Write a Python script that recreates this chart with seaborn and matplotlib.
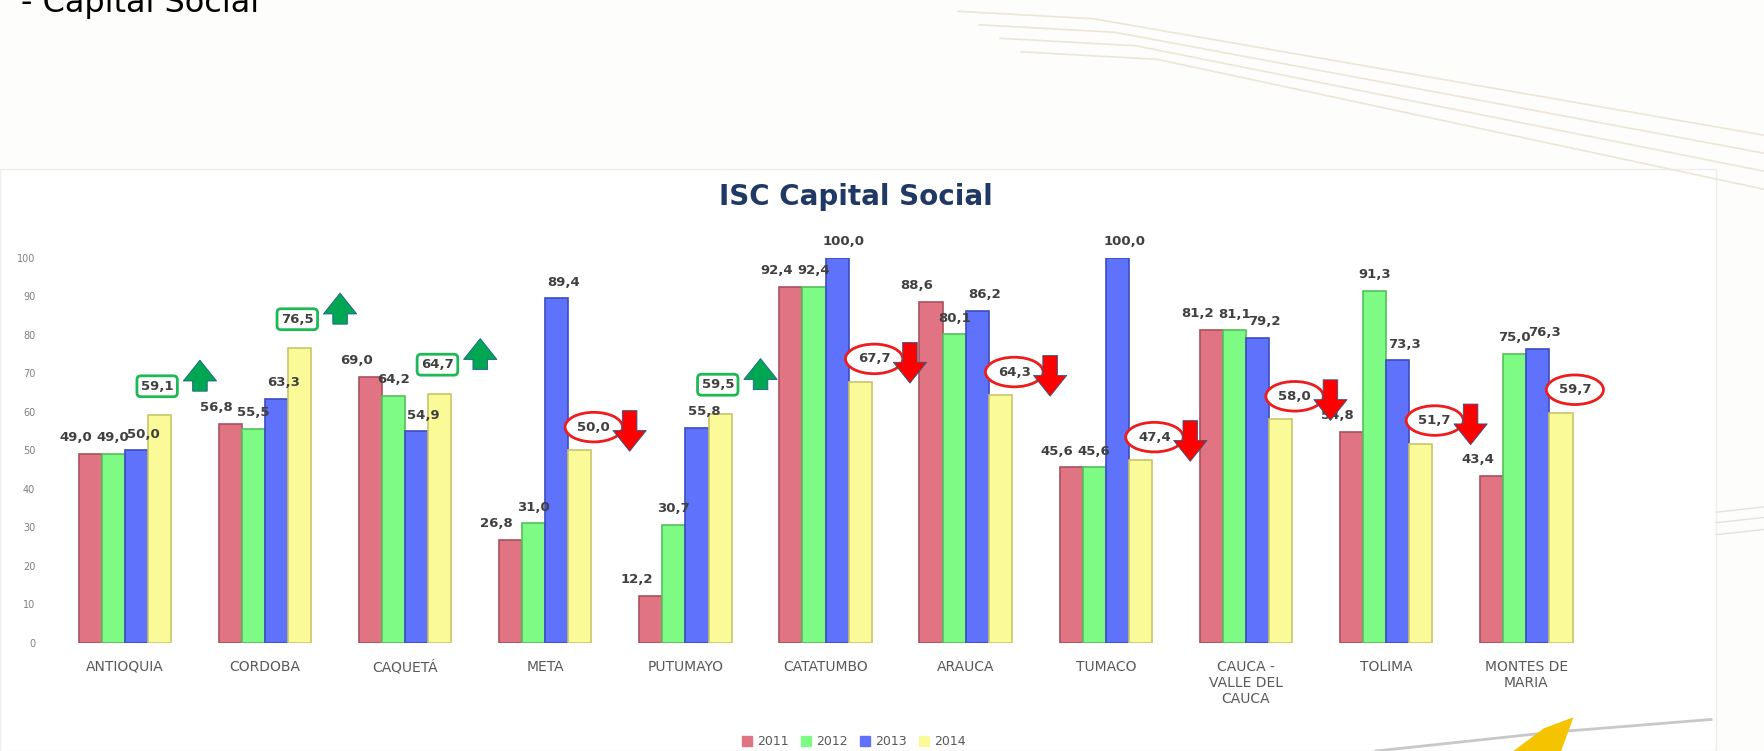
import numpy as np
import pandas as pd
import matplotlib
matplotlib.use("Agg")
import matplotlib.pyplot as plt
import seaborn as sns
from matplotlib.patches import Patch, Rectangle, Polygon
from matplotlib.lines import Line2D

# Datos
regiones = ["ANTIOQUIA", "CORDOBA", "CAQUETÁ", "META", "PUTUMAYO", "CATATUMBO",
            "ARAUCA", "TUMACO", "CAUCA -\nVALLE DEL\nCAUCA", "TOLIMA", "MONTES DE\nMARIA"]
anios = ["2011", "2012", "2013", "2014"]
v2011 = [49.0, 56.8, 69.0, 26.8, 12.2, 92.4, 88.6, 45.6, 81.2, 54.8, 43.4]
v2012 = [49.0, 55.5, 64.2, 31.0, 30.7, 92.4, 80.1, 45.6, 81.1, 91.3, 75.0]
v2013 = [50.0, 63.3, 54.9, 89.4, 55.8, 100.0, 86.2, 100.0, 79.2, 73.3, 76.3]
v2014 = [59.1, 76.5, 64.7, 50.0, 59.5, 67.7, 64.3, 47.4, 58.0, 51.7, 59.7]

colores = ["#e07482", "#7dfb84", "#5f72fb", "#fbfa98"]
bordes = ["#a8505c", "#55c05c", "#3a4cc0", "#c8c66a"]

df = pd.DataFrame({
    "region": regiones * 4,
    "anio": [a for a in anios for _ in regiones],
    "valor": v2011 + v2012 + v2013 + v2014,
})

fig = plt.figure(figsize=(17.64, 7.51), dpi=100)
fig.patch.set_facecolor("#fdfdfc")

# panel blanco del gráfico
fig.add_artist(Rectangle((0, 0), 0.973, 0.775, transform=fig.transFigure,
                         facecolor="white", edgecolor="#eeeeee", lw=1, zorder=0))

# líneas decorativas del fondo
for d in [0, 0.012, 0.024, 0.036]:
    fig.add_artist(Line2D([0.543 + d, 0.62 + d, 1.0], [0.985 - d * 1.5, 0.975 - d * 1.5, 0.82 - d * 2],
                          transform=fig.transFigure, color="#ece6d6", lw=1.2, zorder=0))
for d in [0, 0.014, 0.03]:
    fig.add_artist(Line2D([0.973, 1.0], [0.318 - d, 0.325 - d], transform=fig.transFigure,
                          color="#e2e2e2", lw=1, zorder=0))
fig.add_artist(Line2D([0.78, 0.88, 0.97], [0.0, 0.025, 0.042], transform=fig.transFigure,
                      color="#c8c8c8", lw=2, zorder=1))
fig.add_artist(Polygon([[0.858, 0.0], [0.875, 0.03], [0.892, 0.045], [0.885, 0.0]],
                       closed=True, transform=fig.transFigure, facecolor="#f5c400",
                       edgecolor="none", zorder=1))

fig.text(0.012, 1 - 12 / 751, "- Capital Social", fontsize=23, color="black",
         va="baseline", ha="left")

ax = fig.add_axes([0.031, 0.144, 0.874, 0.513])
ax.set_facecolor("none")
sns.barplot(data=df, x="region", y="valor", hue="anio", palette=colores,
            width=0.66, ax=ax, legend=False, saturation=1)

for cont, borde in zip(ax.containers, bordes):
    for p in cont:
        p.set_edgecolor(borde)
        p.set_linewidth(1.2)

ax.set_ylim(0, 100)
ax.set_xlim(-0.5, len(regiones) - 0.5)
ax.set_yticks(range(0, 101, 10))
ax.tick_params(axis="y", length=0, labelsize=7, labelcolor="#7f7f7f", pad=14)
ax.tick_params(axis="x", length=0, labelsize=10, labelcolor="#595959", pad=12)
ax.set_xlabel("")
ax.set_ylabel("")
sns.despine(ax=ax, left=True, bottom=True)


def fmt(v):
    return f"{v:.1f}".replace(".", ",")


# etiquetas de 2011-2013 (desplazadas como en el original)
desplaz = [-0.6, 0.0, 0.3]
for cont, vals, dx in zip(ax.containers[:3], [v2011, v2012, v2013], desplaz):
    for p, v in zip(cont, vals):
        w = p.get_width()
        cx = p.get_x() + w / 2 + dx * w
        ax.text(cx, v + 2.5, fmt(v), ha="center", va="bottom", fontsize=9.5,
                fontweight="bold", color="#404040")

flecha = "simple,head_width=1.6,head_length=1.0,tail_width=0.7"

# etiquetas 2014 con flecha de tendencia respecto a 2013
for p, v, prev in zip(ax.containers[3], v2014, v2013):
    w = p.get_width()
    cx = p.get_x() + w / 2
    if v > prev:
        ax.text(cx - 0.1 * w, v + 7.5, fmt(v), ha="center", va="center", fontsize=9.5,
                fontweight="bold", color="#404040",
                bbox=dict(boxstyle="round,pad=0.3,rounding_size=0.3", fc="white",
                          ec="#1db954", lw=2))
        ax.annotate("", xy=(cx + 1.75 * w, v + 15), xytext=(cx + 1.75 * w, v + 5.5),
                    arrowprops=dict(arrowstyle=flecha, mutation_scale=15,
                                    fc="#00a651", ec="#1f5f8f", lw=0.6))
    else:
        ax.text(cx + 0.6 * w, v + 6, fmt(v), ha="center", va="center", fontsize=9.5,
                fontweight="bold", color="#404040",
                bbox=dict(boxstyle="ellipse,pad=0.3", fc="white", ec="#ee1c1c", lw=2))
        ax.annotate("", xy=(cx + 2.15 * w, v - 1), xytext=(cx + 2.15 * w, v + 11),
                    arrowprops=dict(arrowstyle=flecha, mutation_scale=15,
                                    fc="#ff0000", ec="#1f5f8f", lw=0.6))

fig.text(0.485, 0.738, "ISC Capital Social", fontsize=20, fontweight="bold",
         color="#1f3864", ha="center", va="center")

handles = [Patch(facecolor=c, edgecolor=c) for c in colores]
fig.legend(handles, anios, loc="center", bbox_to_anchor=(0.484, 0.012), ncol=4,
           frameon=False, fontsize=9, handlelength=0.8, handleheight=0.8,
           handletextpad=0.4, columnspacing=1.0, labelcolor="#595959")

fig.savefig("out.png", dpi=100, facecolor=fig.get_facecolor())
